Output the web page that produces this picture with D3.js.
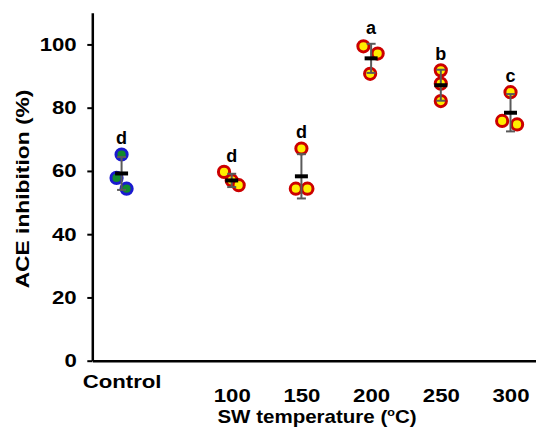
<!DOCTYPE html>
<html>
<head>
<meta charset="UTF-8">
<script src="https://d3js.org/d3.v7.min.js"></script>
<style>
body { margin: 0; background: #fff; }
text { font-family: "Liberation Sans", Arial, sans-serif; font-weight: bold; fill: #000; }
</style>
</head>
<body>
<div id="chart"></div>
<script>
// groups along the x axis (control plotted near room temperature)
var groups = ["Control", "100", "150", "200", "250", "300"];
var groupTemp = [21, 100, 150, 200, 250, 300];
// individual replicates, ACE inhibition (%)
var replicates = [
  [65.2, 57.8, 54.4],
  [59.7, 57.0, 55.5],
  [67.1, 54.4, 54.4],
  [99.4, 97.1, 90.7],
  [91.8, 87.6, 82.1],
  [84.9, 75.8, 74.7]
];
// horizontal spread of replicates, in degC
var jitter = [
  [0, -3.6, 3.6],
  [-5.5, 0, 5],
  [0, -4, 4.3],
  [-5.5, 4.7, -0.7],
  [0, 0, 0],
  [0, -6, 4.7]
];
var means = [59.2, 57.0, 58.3, 95.6, 87.1, 78.4];
var sds = [5.2, 2.1, 7.0, 4.6, 4.9, 5.9];
var letters = ["d", "d", "d", "a", "b", "c"];
var yTicks = [0, 20, 40, 60, 80, 100];

var width = 536, height = 429;

var svg = d3.select("#chart").append("svg")
    .attr("width", width)
    .attr("height", height);

var x = d3.scaleLinear().domain([0, 320]).range([92.3, 538.4]);
var y = d3.scaleLinear().domain([0, 110]).range([360.7, 12.8]);

// y axis
var yAxis = svg.append("g")
    .attr("transform", "translate(" + x(0) + ",0)")
    .call(d3.axisLeft(y).tickValues(yTicks).tickSize(5).tickSizeOuter(0));
yAxis.select(".domain").attr("stroke", "#000").attr("stroke-width", 2.5);
yAxis.selectAll(".tick line").attr("stroke", "#000").attr("stroke-width", 2);
yAxis.selectAll(".tick text")
    .attr("x", -13)
    .attr("transform", "scale(1.2,1)")
    .style("font-size", "18.5px");

// x axis
var xAxis = svg.append("g")
    .attr("transform", "translate(0," + y(0) + ")")
    .call(d3.axisBottom(x).tickValues(groupTemp).tickSize(0).tickSizeOuter(0)
        .tickFormat(function(d, i) { return groups[i]; }));
xAxis.select(".domain").attr("stroke", "#000").attr("stroke-width", 2.5);
xAxis.selectAll(".tick text")
    .attr("dy", 0)
    .attr("y", function(d, i) { return i === 0 ? 27.3 : 41; })
    .attr("transform", "scale(1.2,1)")
    .style("font-size", "18.5px");

// axis titles
svg.append("text")
    .attr("transform", "translate(28.5,189) rotate(-90) scale(1.2,1)")
    .attr("text-anchor", "middle")
    .style("font-size", "19px")
    .text("ACE inhibition (%)");

var xt = svg.append("text")
    .attr("transform", "translate(317,423) scale(1.14,1)")
    .attr("text-anchor", "middle")
    .style("font-size", "18px");
xt.append("tspan").text("SW temperature (");
xt.append("tspan").attr("dy", -7).style("font-size", "11px").text("o");
xt.append("tspan").attr("dy", 7).text("C)");

// replicate points
var pts = [];
replicates.forEach(function(vals, g) {
  vals.forEach(function(v, k) {
    pts.push({g: g, v: v, dx: jitter[g][k]});
  });
});
svg.append("g").selectAll("circle")
    .data(pts)
    .join("circle")
    .attr("cx", function(d) { return x(groupTemp[d.g] + d.dx); })
    .attr("cy", function(d) { return y(d.v); })
    .attr("r", 5.6)
    .attr("fill", function(d) { return d.g === 0 ? "#128a2c" : "#ffee00"; })
    .attr("stroke", function(d) { return d.g === 0 ? "#1a1ad0" : "#cc0000"; })
    .attr("stroke-width", 3);

// error bars
var eb = svg.append("g").attr("stroke", "#5a5a5a").attr("stroke-width", 2);
groups.forEach(function(c, i) {
  var cx = x(groupTemp[i]);
  var top = y(means[i] + sds[i]), bot = y(means[i] - sds[i]);
  eb.append("line").attr("x1", cx).attr("x2", cx).attr("y1", top).attr("y2", bot);
  eb.append("line").attr("x1", cx - 4.5).attr("x2", cx + 4.5).attr("y1", top).attr("y2", top);
  eb.append("line").attr("x1", cx - 4.5).attr("x2", cx + 4.5).attr("y1", bot).attr("y2", bot);
});

// mean bars
svg.append("g").selectAll("line")
    .data(means)
    .join("line")
    .attr("x1", function(d, i) { return x(groupTemp[i]) - 6.5; })
    .attr("x2", function(d, i) { return x(groupTemp[i]) + 6.5; })
    .attr("y1", function(d) { return y(d); })
    .attr("y2", function(d) { return y(d); })
    .attr("stroke", "#000")
    .attr("stroke-width", 4);

// significance letters
svg.append("g").selectAll("text")
    .data(letters)
    .join("text")
    .attr("x", function(d, i) { return x(groupTemp[i]); })
    .attr("y", function(d, i) {
      var top = Math.max(d3.max(replicates[i]), means[i] + sds[i]);
      return y(top) - 10;
    })
    .attr("text-anchor", "middle")
    .style("font-size", "18px")
    .text(function(d) { return d; });
</script>
</body>
</html>
